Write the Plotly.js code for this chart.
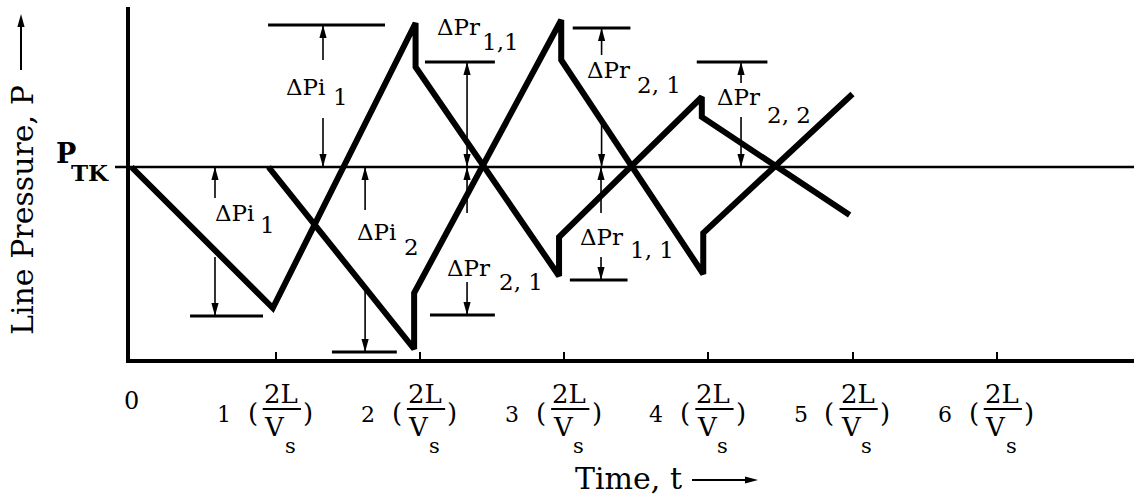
<!DOCTYPE html>
<html>
<head>
<meta charset="utf-8">
<script src="https://cdn.plot.ly/plotly-3.0.1.min.js"></script>
<style>
  html, body { margin: 0; padding: 0; background: #fff; }
  #chart { width: 1134px; height: 497px; }
</style>
</head>
<body>
<div id="chart"></div>
<script>
// Time in units of the wave round-trip time 2L/Vs; pressure relative to tank pressure P_TK.
const timeA = [0, 0.98, 1.97, 1.97, 2.965, 2.965, 3.955, 3.955, 4.98];
const pressureA = [0, -14.1, 14.4, 10.0, -10.9, -7.0, 7.0, 5.0, -4.8];
const timeB = [0.95, 1.96, 1.96, 2.98, 2.98, 3.965, 3.965, 5.0];
const pressureB = [0, -18.2, -12.6, 14.7, 10.7, -10.7, -6.6, 7.3];

// Time-axis ticks, each labelled "n (2L/Vs)"
const tickTimes = [1, 2, 3, 4, 5, 6];
const tickNumbers = ['1', '2', '3', '4', '5', '6'];

// Pressure-step dimensions: symbol, subscript, and the pressure level marked by the bar
const dimLabels = ['ΔPi', 'ΔPi', 'ΔPi', 'ΔPr', 'ΔPr', 'ΔPr', 'ΔPr', 'ΔPr'];
const dimSubscripts = ['1', '1', '2', '1,1', '2, 1', '2, 1', '1, 1', '2, 2'];
const dimLevels = [14.2, -14.9, -18.5, 10.5, -14.8, 13.9, -11.3, 10.5];

// Placement of each dimension: bar span, arrow time, arrow tails, label anchors
const dimGeometry = [
  { bar: [0.947, 1.758], at: 1.328, outer: 10.7, inner: 4.9, label: [1.21, 8.0], sub: [1.45, 7.0] },
  { bar: [0.406, 0.912], at: 0.579, outer: -9.0, inner: -3.1, label: [0.711, -4.6], sub: [0.94, -5.8] },
  { bar: [1.39, 1.84], at: 1.62, outer: -12.3, inner: -4.3, label: [1.70, -6.5], sub: [1.94, -8.0] },
  { bar: [2.035, 2.52], at: 2.327, double: true, label: [2.265, 14.0], sub: [2.56, 12.5] },
  { bar: [2.07, 2.52], at: 2.327, outer: -11.5, inner: -4.6, label: [2.34, -10.1], sub: [2.70, -11.5] },
  { bar: [3.06, 3.46], at: 3.26, outer: 11.2, inner: 4.4, label: [3.31, 9.7], sub: [3.66, 8.2] },
  { bar: [3.04, 3.44], at: 3.256, outer: -9.0, inner: -4.6, label: [3.256, -7.0], sub: [3.61, -8.3] },
  { bar: [3.92, 4.41], at: 4.227, outer: 8.4, inner: 5.0, label: [4.21, 7.0], sub: [4.56, 5.2] }
];

const W = 1134, H = 497;
const M = { l: 130, r: 0, t: 7, b: 138 };
const plotW = W - M.l - M.r, plotH = H - M.t - M.b;
const px = x => (x - M.l) / plotW;          // page pixel -> paper x
const py = y => (H - M.b - y) / plotH;      // page pixel -> paper y
const FONT = 'DejaVu Serif';
const INK = '#000';

const shapes = [];
const annotations = [];

function text(x, y, s, size, extra) {
  annotations.push(Object.assign({
    x: x, y: y, text: s, showarrow: false,
    xanchor: 'center', yanchor: 'middle',
    font: { family: FONT, size: size, color: INK }
  }, extra || {}));
}

function head(x, y, dir, xref, yref) {
  const L = 13, w = 3.6;
  const paths = {
    up: `M0,0 L${-w},${-L} L${w},${-L} Z`,
    down: `M0,0 L${-w},${L} L${w},${L} Z`,
    right: `M0,0 L${-L},${-w} L${-L},${w} Z`
  };
  shapes.push({
    type: 'path', xref: xref, yref: yref,
    xsizemode: 'pixel', ysizemode: 'pixel', xanchor: x, yanchor: y,
    path: paths[dir], fillcolor: INK, line: { width: 0 }
  });
}

function vArrow(t, from, to) {
  shapes.push({ type: 'line', xref: 'x', yref: 'y', x0: t, x1: t, y0: from, y1: to,
    line: { color: INK, width: 1.6 } });
  head(t, to, to > from ? 'up' : 'down', 'x', 'y');
}

// tank-pressure reference line, with its small lead-in left of the axis
shapes.push({ type: 'line', xref: 'paper', yref: 'y', x0: px(115), x1: 1, y0: 0, y1: 0,
  line: { color: INK, width: 2.5 } });

// dimension bars, arrows and labels
dimLevels.forEach((level, i) => {
  const g = dimGeometry[i];
  shapes.push({ type: 'line', xref: 'x', yref: 'y', x0: g.bar[0], x1: g.bar[1], y0: level, y1: level,
    line: { color: INK, width: 3 } });
  if (g.double) {
    shapes.push({ type: 'line', xref: 'x', yref: 'y', x0: g.at, x1: g.at, y0: level, y1: 0,
      line: { color: INK, width: 1.6 } });
    head(g.at, level, level > 0 ? 'up' : 'down', 'x', 'y');
    head(g.at, 0, level > 0 ? 'down' : 'up', 'x', 'y');
  } else {
    vArrow(g.at, g.outer, level);
    vArrow(g.at, g.inner, 0);
  }
  text(g.label[0], g.label[1], dimLabels[i], 23);
  text(g.sub[0], g.sub[1], dimSubscripts[i], 23);
});

// time-axis labels "n (2L/Vs)"
text(0, py(401), '0', 24, { yref: 'paper' });
tickTimes.forEach((t, i) => {
  const opt = { yref: 'paper' };
  text(t - 0.36, py(414), tickNumbers[i], 22, opt);
  text(t - 0.16, py(413), '(', 26, opt);
  text(t + 0.035, py(394), '2L', 26, opt);
  text(t - 0.007, py(427), 'V', 26, opt);
  text(t + 0.10, py(446), 's', 21, opt);
  text(t + 0.225, py(413), ')', 26, opt);
  shapes.push({ type: 'line', xref: 'x', yref: 'paper', x0: t - 0.09, x1: t + 0.175,
    y0: py(409), y1: py(409), line: { color: INK, width: 2 } });
});

// axis titles with their direction arrows
text(px(22), py(210), 'Line Pressure, P', 30, { xref: 'paper', yref: 'paper', textangle: -90 });
shapes.push({ type: 'line', xref: 'paper', yref: 'paper', x0: px(21), x1: px(21), y0: py(70), y1: py(20),
  line: { color: INK, width: 2 } });
head(px(21), py(14), 'up', 'paper', 'paper');

text(px(628), py(478), 'Time, t', 30, { xref: 'paper', yref: 'paper' });
shapes.push({ type: 'line', xref: 'paper', yref: 'paper', x0: px(692), x1: px(750), y0: py(480), y1: py(480),
  line: { color: INK, width: 2 } });
head(px(758), py(480), 'right', 'paper', 'paper');

// P_TK label
text(px(66), py(153), '<b>P</b>', 27, { xref: 'paper', yref: 'paper' });
text(px(90), py(172), '<b>TK</b>', 23, { xref: 'paper', yref: 'paper' });

const lineStyle = { color: INK, width: 6 };
const traces = [
  { x: timeA, y: pressureA, mode: 'lines', line: lineStyle, hoverinfo: 'skip' },
  { x: timeB, y: pressureB, mode: 'lines', line: lineStyle, hoverinfo: 'skip' }
];

const layout = {
  width: W, height: H,
  margin: M,
  paper_bgcolor: '#fff', plot_bgcolor: '#fff',
  showlegend: false,
  xaxis: {
    range: [(M.l - 131.5) / 144.2, (W - 131.5) / 144.2],
    showgrid: false, zeroline: false,
    showline: true, linecolor: INK, linewidth: 4,
    tickvals: tickTimes, ticks: 'inside', ticklen: 7, tickwidth: 2, tickcolor: INK,
    showticklabels: false, fixedrange: true
  },
  yaxis: {
    range: [-19.2, 16.0],
    showgrid: false, zeroline: false,
    showline: true, linecolor: INK, linewidth: 4,
    ticks: '', showticklabels: false, fixedrange: true
  },
  shapes: shapes,
  annotations: annotations
};

Plotly.newPlot('chart', traces, layout, { staticPlot: true, displayModeBar: false });
</script>
</body>
</html>
